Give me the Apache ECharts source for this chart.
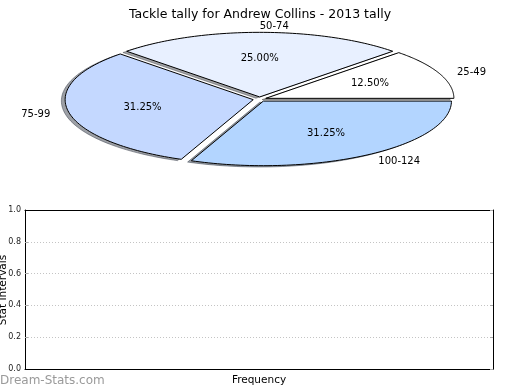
<!DOCTYPE html>
<html>
<head>
<meta charset="utf-8">
<script src="https://cdn.jsdelivr.net/npm/echarts@6/dist/echarts.min.js"></script>
<style>html,body{margin:0;padding:0;background:#fff}#c{width:520px;height:390px}</style>
</head>
<body>
<div id="c"></div>
<script>
const categories = ['25-49', '50-74', '75-99', '100-124'];
const counts = [2, 4, 5, 5];
const sliceColors = ['#ffffff', '#e8f0ff', '#c4d8ff', '#b3d5ff'];
const yTickValues = [0.0, 0.2, 0.4, 0.6, 0.8, 1.0];

const FONT = 'DejaVu Sans';
const EXPLODE = 0.035;
const total = counts.reduce((a, b) => a + b, 0);
const cum = [0];
counts.forEach(v => cum.push(cum[cum.length - 1] + v));

function sliceGeom(i) {
  const a0 = cum[i] / total * Math.PI * 2;
  const a1 = cum[i + 1] / total * Math.PI * 2;
  const mid = (a0 + a1) / 2;
  return { a0, a1, mid, ex: EXPLODE * Math.cos(mid), ey: EXPLODE * Math.sin(mid) };
}
function wedgePoints(api, i, dx, dy) {
  const g = sliceGeom(i);
  const pts = [api.coord([g.ex + dx, g.ey + dy])];
  const N = 80;
  for (let k = 0; k <= N; k++) {
    const t = g.a0 + (g.a1 - g.a0) * k / N;
    pts.push(api.coord([g.ex + dx + Math.cos(t), g.ey + dy + Math.sin(t)]));
  }
  return pts;
}
function shade(hex) {
  const n = parseInt(hex.slice(1), 16);
  const r = Math.round(((n >> 16) & 255) * 0.3), g = Math.round(((n >> 8) & 255) * 0.3), b = Math.round((n & 255) * 0.3);
  return 'rgba(' + r + ',' + g + ',' + b + ',0.5)';
}

const pieData = counts.map((v, i) => [i, v]);
const boxLine = { show: true, onZero: false, lineStyle: { color: '#000', width: 1 } };

const chart = echarts.init(document.getElementById('c'), null, { renderer: 'canvas' });
chart.setOption({
  animation: false,
  backgroundColor: '#fff',
  title: {
    text: 'Tackle tally for Andrew Collins - 2013 tally',
    left: 'center', top: 3,
    textStyle: { fontFamily: FONT, fontSize: 12.5, fontWeight: 'normal', color: '#000' }
  },
  graphic: [
    {
      type: 'text', left: 0, top: 375,
      style: { text: 'Dream-Stats.com', font: '12px "DejaVu Sans"', fill: '#9a9a9a' }
    },
    {
      type: 'text', x: 3, y: 290, rotation: Math.PI / 2,
      style: { text: 'Stat Intervals', x: 0, y: 0, align: 'center', verticalAlign: 'middle',
        font: '10.5px "DejaVu Sans"', fill: '#000' }
    }
  ],
  grid: [
    { left: 71.6, top: 34.6, width: 376.2, height: 129.2, show: false },
    { left: 25, top: 210, right: 27, bottom: 21, show: false }
  ],
  xAxis: [
    { gridIndex: 0, type: 'value', min: -1, max: 1, show: false },
    {
      gridIndex: 1, type: 'value', min: 0, max: 1, position: 'bottom', z: 5,
      axisLine: boxLine, axisTick: { show: false }, axisLabel: { show: false }, splitLine: { show: false },
      name: 'Frequency', nameLocation: 'middle', nameGap: 6,
      nameTextStyle: { fontFamily: FONT, fontSize: 10.5, color: '#000', verticalAlign: 'top' }
    },
    {
      gridIndex: 1, type: 'value', min: 0, max: 1, position: 'top', z: 5,
      axisLine: boxLine, axisTick: { show: false }, axisLabel: { show: false }, splitLine: { show: false }
    }
  ],
  yAxis: [
    { gridIndex: 0, type: 'value', min: -1, max: 1, show: false },
    {
      gridIndex: 1, type: 'value', min: 0, max: 1, interval: 0.2, position: 'left', z: 1,
      axisLine: boxLine,
      axisTick: { show: true, inside: true, length: 3, lineStyle: { color: '#aaa' } },
      axisLabel: { fontFamily: FONT, fontSize: 8, color: '#222', margin: 4,
        formatter: v => { const t = yTickValues.find(x => Math.abs(x - v) < 1e-9); return (t === undefined ? v : t).toFixed(1); } },
      splitLine: { show: true, lineStyle: { color: '#c4c4c4', type: [1, 2], width: 1 } }
    },
    {
      gridIndex: 1, type: 'value', min: 0, max: 1, interval: 0.2, position: 'right', z: 5,
      axisLine: boxLine,
      axisTick: { show: true, inside: true, length: 3, lineStyle: { color: '#aaa' } },
      axisLabel: { show: false }, splitLine: { show: false }
    }
  ],
  series: [
    {
      type: 'custom', xAxisIndex: 0, yAxisIndex: 0, z: 1, silent: true,
      data: pieData,
      renderItem: (params, api) => {
        const i = params.dataIndex;
        const c = shade(sliceColors[i]);
        return { type: 'polygon', shape: { points: wedgePoints(api, i, -0.02, -0.02) },
          style: { fill: c, stroke: c, lineWidth: 1 } };
      }
    },
    {
      type: 'custom', xAxisIndex: 0, yAxisIndex: 0, z: 2, silent: true,
      data: pieData,
      renderItem: (params, api) => {
        const i = params.dataIndex;
        const g = sliceGeom(i);
        const cm = Math.cos(g.mid), sm = Math.sin(g.mid);
        const lp = api.coord([g.ex + 1.1 * cm, g.ey + 1.1 * sm]);
        const pp = api.coord([g.ex + 0.6 * cm, g.ey + 0.6 * sm]);
        const pct = (api.value(1) / total * 100).toFixed(2) + '%';
        return {
          type: 'group',
          children: [
            { type: 'polygon', shape: { points: wedgePoints(api, i, 0, 0) },
              style: { fill: sliceColors[i], stroke: '#000', lineWidth: 1 } },
            { type: 'text', z2: 10, style: { text: pct, x: pp[0], y: pp[1], align: 'center', verticalAlign: 'middle',
              font: '10px "DejaVu Sans"', fill: '#000' } },
            { type: 'text', z2: 10, style: { text: categories[i], x: lp[0], y: lp[1] + 1, align: cm >= 0 ? 'left' : 'right',
              verticalAlign: 'middle', font: '10px "DejaVu Sans"', fill: '#000' } }
          ]
        };
      }
    }
  ]
});
</script>
</body>
</html>
